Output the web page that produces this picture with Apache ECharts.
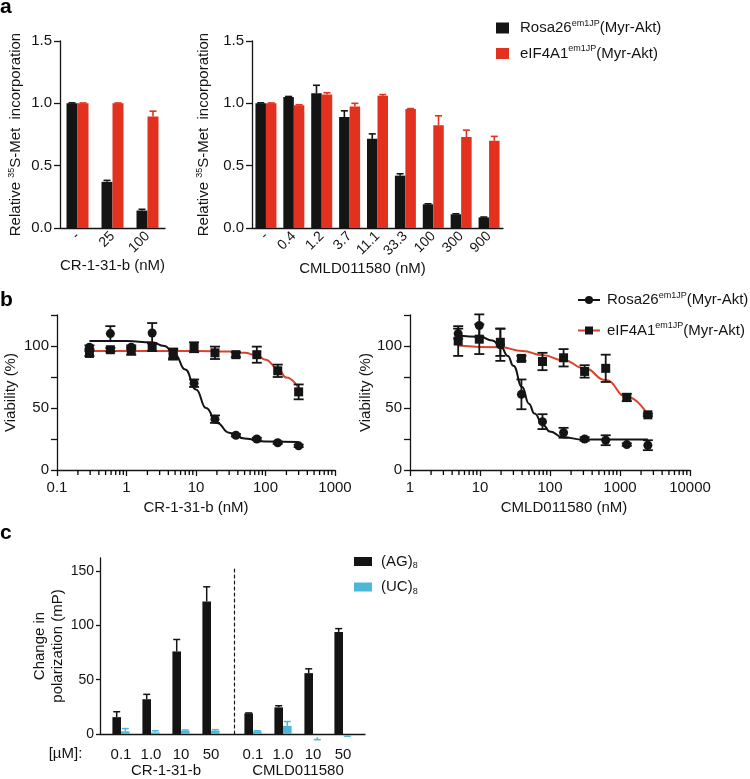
<!DOCTYPE html>
<html><head><meta charset="utf-8">
<script src="https://cdn.jsdelivr.net/npm/echarts@6/dist/echarts.min.js"></script>
<style>html,body{margin:0;padding:0;background:#fff}#c{width:750px;height:779px}</style>
</head><body><div id="c"></div>
<script>
// ---------- Panel a ----------
const catsA1 = ['-', '25', '100'];
const rosaA1 = [1.0, 0.37, 0.14];
const rosaA1Err = [0.004, 0.012, 0.01];
const eifA1 = [1.0, 1.0, 0.895];
const eifA1Err = [0.003, 0.003, 0.042];
const catsA2 = ['-', '0.4', '1.2', '3.7', '11.1', '33.3', '100', '300', '900'];
const rosaA2 = [1.0, 1.05, 1.08, 0.89, 0.715, 0.42, 0.19, 0.11, 0.085];
const rosaA2Err = [0.004, 0.005, 0.065, 0.05, 0.04, 0.015, 0.004, 0.004, 0.003];
const eifA2 = [1.0, 0.985, 1.07, 0.975, 1.06, 0.955, 0.825, 0.73, 0.70];
const eifA2Err = [0.003, 0.004, 0.015, 0.025, 0.01, 0.003, 0.075, 0.055, 0.035];

// ---------- Panel b ----------
const xB1 = [0.293, 0.586, 1.17, 2.34, 4.69, 9.38, 18.75, 37.5, 75, 150, 300];
const rosaB1 = [99, 110, 99, 110.5, 94, 70, 41, 28, 25, 22, 19.5];
const rosaB1Err = [1.5, 6, 1.5, 8, 4, 3, 3, 1, 1, 1, 1];
const eifB1 = [94, 97, 96, 99, 93, 99, 94.5, 93, 93, 80, 63];
const eifB1Err = [2, 1.5, 3, 3, 4, 4, 5, 2, 6.5, 5, 6];
const fitXRosaB1 = [0.293, 1, 2.3, 3.5, 5, 7, 10, 14, 20, 30, 50, 100, 300];
const fitYRosaB1 = [104, 104, 103, 100, 93, 81, 65, 50, 38, 30, 25.5, 23, 22.5];
const fitXEifB1 = [0.293, 10, 30, 50, 75, 100, 150, 200, 300];
const fitYEifB1 = [96, 96, 95.5, 94.5, 92.5, 89, 82, 74.5, 66];

const xB2 = [4.88, 9.77, 19.53, 39.06, 78.1, 156.25, 312.5, 625, 1250, 2500];
const rosaB2 = [110, 116.5, 101, 61, 39, 30, 25, 24, 20.5, 20];
const rosaB2Err = [4, 9, 13, 12, 6, 4, 1.5, 4, 1, 4];
const eifB2 = [104, 105.5, 103, 90, 87.5, 90.5, 79.5, 82, 58.5, 44.5];
const eifB2Err = [12, 12, 11, 2, 7, 7, 5, 11, 3, 1];
const fitXRosaB2 = [4.88, 10, 15, 20, 25, 30, 40, 50, 60, 80, 100, 150, 300, 2500];
const fitYRosaB2 = [108.5, 107.5, 104.5, 99, 92, 84, 67, 53.5, 45.5, 36, 31, 26.5, 24.5, 24.5];
const fitXEifB2 = [4.88, 20, 40, 80, 156, 312, 625, 1250, 2500];
const fitYEifB2 = [100.5, 99, 96, 92.5, 88.5, 82, 72.5, 59, 44.5];

// minor tick positions of the log axes
const minorB1 = [0.2, 0.3, 0.4, 0.5, 0.6, 0.7, 0.8, 0.9, 2, 3, 4, 5, 6, 7, 8, 9,
  20, 30, 40, 50, 60, 70, 80, 90, 200, 300, 400, 500, 600, 700, 800, 900];
const minorB2 = [2, 3, 4, 5, 6, 7, 8, 9, 20, 30, 40, 50, 60, 70, 80, 90,
  200, 300, 400, 500, 600, 700, 800, 900, 2000, 3000, 4000, 5000, 6000, 7000, 8000, 9000];

// ---------- Panel c ----------
const catsC = ['0.1', '1.0', '10', '50'];
const agCR = [15.5, 32, 76, 122];
const agCRErr = [5, 4.5, 11, 13.5];
const ucCR = [2.5, 1.5, 3, 3];
const ucCRErr = [2.5, 1.5, 0.7, 1];
const agCM = [19, 24.5, 56, 94];
const agCMErr = [0.4, 1.5, 4, 3];
const ucCM = [2.5, 7.5, -3, -1];
const ucCMErr = [0.5, 4, 2.2, 1];
const yTicksC = [0, 50, 100, 150];

// ---------- styling ----------
const FONT = "'Liberation Sans', Arial, Helvetica, sans-serif";
const INK = '#141414';
const BLK = '#141414';
const RED = '#e2321f';
const REDLINE = '#d9432b';
const CYAN = '#4cb8d5';
const AX = { lineStyle: { color: INK, width: 1.3 } };

function errRender(offset, cap, mode, color, lw) {
  return function (params, api) {
    const x = api.value(0), v = api.value(1), e = api.value(2);
    const p = api.coord([x, v]);
    const cx = p[0] + offset;
    let topY, botY;
    if (mode === 'both') {
      topY = api.coord([x, v + e])[1];
      botY = api.coord([x, v - e])[1];
    } else if (mode === 'tick') {
      topY = p[1];
      botY = p[1] + e;
    } else {
      const s = v < 0 ? -1 : 1;
      topY = api.coord([x, v + s * e])[1];
      botY = p[1];
    }
    const st = { stroke: color, lineWidth: lw };
    const ch = [
      { type: 'line', shape: { x1: cx, y1: botY, x2: cx, y2: topY }, style: st }
    ];
    if (cap > 0) ch.push({ type: 'line', shape: { x1: cx - cap / 2, y1: topY, x2: cx + cap / 2, y2: topY }, style: st });
    if (mode === 'both') ch.push({ type: 'line', shape: { x1: cx - cap / 2, y1: botY, x2: cx + cap / 2, y2: botY }, style: st });
    return { type: 'group', children: ch };
  };
}
function errSeries(xi, yi, vals, errs, offset, cap, mode, color, lw) {
  return {
    type: 'custom', xAxisIndex: xi, yAxisIndex: yi, silent: true, z: 4, clip: false,
    data: vals.map((v, i) => [i, v, errs[i]]),
    renderItem: errRender(offset, cap, mode, color, lw)
  };
}
function errSeriesXY(xi, yi, xs, vals, errs, color) {
  return {
    type: 'custom', xAxisIndex: xi, yAxisIndex: yi, silent: true, z: 4, clip: false,
    data: xs.map((x, i) => [x, vals[i], errs[i]]),
    renderItem: errRender(0, 10, 'both', color, 1.8)
  };
}
// minor ticks drawn exactly like the working error bars: [x, y=0, length]
function minorTickSeries(xi, yi, ticks) {
  return {
    type: 'custom', xAxisIndex: xi, yAxisIndex: yi, silent: true, z: 4, clip: false,
    data: ticks.map(t => [t, 0.001, 5]),
    renderItem: errRender(0, 0, 'tick', '#000', 1.3)
  };
}

const supRich = {
  n: { fontSize: 15, fontFamily: FONT, color: INK, lineHeight: 18 },
  s: { fontSize: 9, fontFamily: FONT, color: INK, verticalAlign: 'top' },
  b: { fontSize: 9, fontFamily: FONT, color: INK, verticalAlign: 'bottom' }
};
const relName = '{n|Relative }{s|35}{n|S-Met  incorporation}';

function legendText(name) {
  if (name.indexOf('Rosa') === 0) return '{n|Rosa26}{s|em1JP}{n|(Myr-Akt)}';
  if (name.indexOf('Eif') === 0) return '{n|eIF4A1}{s|em1JP}{n|(Myr-Akt)}';
  if (name === 'AG') return '{n|(AG)}{b|8}';
  return '{n|(UC)}{b|8}';
}

const grids = [
  { left: 60, top: 41, width: 105, height: 187 },   // a1
  { left: 252, top: 41, width: 251, height: 187 },  // a2
  { left: 57, top: 315, width: 278, height: 155 },  // b1
  { left: 410, top: 315, width: 280, height: 155 }, // b2
  { left: 100, top: 558, width: 265, height: 176 }, // c frame
  { left: 106, top: 558, width: 120, height: 176 }, // c1
  { left: 238, top: 568, width: 120, height: 166 }  // c2
];
const yMaxC = 162;
const yMaxC2 = yMaxC * 166 / 176;

const catX = (gi, cats, name, padRight) => ({
  gridIndex: gi, type: 'category', data: cats, axisLine: AX, axisTick: { show: false },
  axisLabel: { rotate: 45, fontSize: 14, fontFamily: FONT, color: INK, margin: 6, interval: 0 },
  name: name, nameLocation: 'middle', nameGap: 30,
  nameTextStyle: { fontSize: 15, fontFamily: FONT, color: INK, padding: padRight ? [0, padRight, 0, 0] : 0 }
});
const yA = (gi, gap) => ({
  gridIndex: gi, type: 'value', min: 0, max: 1.5, interval: 0.5,
  axisLine: { show: true, lineStyle: AX.lineStyle }, axisTick: { show: true, length: 6, lineStyle: AX.lineStyle },
  splitLine: { show: false },
  axisLabel: { fontSize: 15, fontFamily: FONT, color: INK, margin: 8, formatter: v => v.toFixed(1) },
  name: relName, nameLocation: 'middle', nameGap: gap, nameTextStyle: { rich: supRich }
});
const logX = (gi, min, max, name, pad) => ({
  gridIndex: gi, type: 'log', logBase: 10, min: min, max: max, position: 'bottom',
  axisLine: AX, axisTick: { show: true, length: 6, lineStyle: AX.lineStyle }, splitLine: { show: false },
  axisLabel: { fontSize: 15, fontFamily: FONT, color: INK, margin: 10, formatter: v => String(+v.toPrecision(6)) },
  name: name, nameLocation: 'middle', nameGap: 30,
  nameTextStyle: { fontSize: 15, fontFamily: FONT, color: INK, padding: pad }
});
const yB = (gi, gap) => ({
  gridIndex: gi, type: 'value', min: 0, max: 125, interval: 25,
  axisLine: { show: true, lineStyle: AX.lineStyle }, axisTick: { show: true, length: 6, lineStyle: AX.lineStyle },
  splitLine: { show: false },
  axisLabel: { fontSize: 15, fontFamily: FONT, color: INK, margin: 8, formatter: v => (v % 50 === 0 ? String(v) : '') },
  name: 'Viability (%)', nameLocation: 'middle', nameGap: gap,
  nameTextStyle: { fontSize: 15, fontFamily: FONT, color: INK }
});
const catC = (gi, name) => ({
  gridIndex: gi, type: 'category', data: catsC, axisLine: { show: false }, axisTick: { show: false },
  splitLine: { show: false },
  axisLabel: { fontSize: 15, fontFamily: FONT, color: INK, margin: 13, interval: 0 },
  name: name, nameLocation: 'middle', nameGap: 27,
  nameTextStyle: { fontSize: 15, fontFamily: FONT, color: INK }
});

const option = {
  animation: false,
  backgroundColor: '#fff',
  textStyle: { fontFamily: FONT, color: INK },
  title: [
    { text: 'a', left: 0, top: -3, padding: 0, textStyle: { fontSize: 21, fontWeight: 'bold', fontFamily: FONT, color: '#000' } },
    { text: 'b', left: 0, top: 290, padding: 0, textStyle: { fontSize: 21, fontWeight: 'bold', fontFamily: FONT, color: '#000' } },
    { text: 'c', left: 0, top: 523, padding: 0, textStyle: { fontSize: 21, fontWeight: 'bold', fontFamily: FONT, color: '#000' } }
  ],
  legend: [
    { data: [{ name: 'RosaA', icon: 'rect' }, { name: 'EifA', icon: 'rect' }], orient: 'vertical', left: 496, top: 19, padding: 0,
      itemWidth: 13, itemHeight: 11, itemGap: 9, selectedMode: false, formatter: legendText,
      textStyle: { rich: supRich, padding: [0, 0, 0, 6] } },
    { data: ['RosaB', 'EifB'], orient: 'vertical', left: 577, top: 291, padding: 0,
      itemWidth: 22, itemHeight: 10, itemGap: 14, selectedMode: false, formatter: legendText,
      textStyle: { rich: supRich, padding: [0, 0, 0, 2] } },
    { data: [{ name: 'AG', icon: 'rect' }, { name: 'UC', icon: 'rect' }], orient: 'vertical', left: 354, top: 554, padding: 0,
      itemWidth: 18, itemHeight: 9, itemGap: 9, selectedMode: false, formatter: legendText,
      textStyle: { rich: supRich, padding: [0, 0, 0, 4] } }
  ],
  grid: grids,
  xAxis: [
    catX(0, catsA1, 'CR-1-31-b (nM)'),
    catX(1, catsA2, 'CMLD011580 (nM)', 30),
    logX(2, 0.1, 1000, 'CR-1-31-b (nM)', 0),
    logX(3, 1, 10000, 'CMLD011580 (nM)', [0, 0, 0, 28]),
    { gridIndex: 4, type: 'value', min: 0, max: 1, axisLine: AX, axisTick: { show: false },
      axisLabel: { show: false }, splitLine: { show: false },
      name: '\n\n[µM]:', nameLocation: 'start', nameGap: 15,
      nameTextStyle: { fontSize: 15, fontFamily: FONT, color: INK, lineHeight: 20 } },
    catC(5, 'CR-1-31-b'),
    catC(6, 'CMLD011580')
  ],
  yAxis: [
    yA(0, 35),
    yA(1, 39),
    yB(2, 39),
    yB(3, 34),
    { gridIndex: 4, type: 'value', min: 0, max: yMaxC, interval: 50,
      axisLine: { show: true, lineStyle: AX.lineStyle },
      axisTick: { show: true, length: 4, customValues: yTicksC, lineStyle: AX.lineStyle },
      axisLabel: { fontSize: 14, fontFamily: FONT, color: INK, margin: 6, customValues: yTicksC },
      splitLine: { show: false },
      name: 'Change in\npolarization (mP)', nameLocation: 'middle', nameGap: 24,
      nameTextStyle: { fontSize: 15, fontFamily: FONT, color: INK, lineHeight: 18 } },
    { gridIndex: 5, type: 'value', min: 0, max: yMaxC, show: false, splitLine: { show: false } },
    { gridIndex: 6, type: 'value', min: 0, max: yMaxC2, position: 'left', offset: 4,
      axisLine: { show: true, lineStyle: { color: INK, width: 1.2, type: [3, 3] } },
      axisTick: { show: false }, axisLabel: { show: false }, splitLine: { show: false } }
  ],
  series: [
    // panel a left
    { type: 'bar', name: 'RosaA', xAxisIndex: 0, yAxisIndex: 0, data: rosaA1, barWidth: 11, barGap: '0%', itemStyle: { color: BLK } },
    { type: 'bar', name: 'EifA', xAxisIndex: 0, yAxisIndex: 0, data: eifA1, barWidth: 11, barGap: '0%', itemStyle: { color: RED } },
    errSeries(0, 0, rosaA1, rosaA1Err, -5.5, 7, 'up', BLK, 1.6),
    errSeries(0, 0, eifA1, eifA1Err, 5.5, 7, 'up', RED, 1.6),
    // panel a right
    { type: 'bar', name: 'RosaA', xAxisIndex: 1, yAxisIndex: 1, data: rosaA2, barWidth: 10.5, barGap: '0%', itemStyle: { color: BLK } },
    { type: 'bar', name: 'EifA', xAxisIndex: 1, yAxisIndex: 1, data: eifA2, barWidth: 10.5, barGap: '0%', itemStyle: { color: RED } },
    errSeries(1, 1, rosaA2, rosaA2Err, -5.25, 7, 'up', BLK, 1.6),
    errSeries(1, 1, eifA2, eifA2Err, 5.25, 7, 'up', RED, 1.6),
    // panel b left
    { type: 'line', name: 'RosaB', xAxisIndex: 2, yAxisIndex: 2, data: fitXRosaB1.map((x, i) => [x, fitYRosaB1[i]]),
      smooth: 0.5, smoothMonotone: 'x', showSymbol: false, symbol: 'circle', symbolSize: 8,
      lineStyle: { color: BLK, width: 2 }, itemStyle: { color: BLK }, z: 3 },
    { type: 'line', name: 'EifB', xAxisIndex: 2, yAxisIndex: 2, data: fitXEifB1.map((x, i) => [x, fitYEifB1[i]]),
      smooth: 0.5, smoothMonotone: 'x', showSymbol: false, symbol: 'rect', symbolSize: 8,
      lineStyle: { color: REDLINE, width: 2 }, itemStyle: { color: BLK }, z: 2 },
    errSeriesXY(2, 2, xB1, rosaB1, rosaB1Err, BLK),
    errSeriesXY(2, 2, xB1, eifB1, eifB1Err, BLK),
    minorTickSeries(2, 2, minorB1),
    { type: 'scatter', name: 'RosaB pts', xAxisIndex: 2, yAxisIndex: 2, data: xB1.map((x, i) => [x, rosaB1[i]]),
      symbol: 'circle', symbolSize: 9, itemStyle: { color: BLK, opacity: 1 }, z: 5 },
    { type: 'scatter', name: 'EifB pts', xAxisIndex: 2, yAxisIndex: 2, data: xB1.map((x, i) => [x, eifB1[i]]),
      symbol: 'rect', symbolSize: 9, itemStyle: { color: BLK, opacity: 1 }, z: 5 },
    // panel b right
    { type: 'line', name: 'RosaB', xAxisIndex: 3, yAxisIndex: 3, data: fitXRosaB2.map((x, i) => [x, fitYRosaB2[i]]),
      smooth: 0.5, smoothMonotone: 'x', showSymbol: false, symbol: 'circle', symbolSize: 8,
      lineStyle: { color: BLK, width: 2 }, itemStyle: { color: BLK }, z: 3 },
    { type: 'line', name: 'EifB', xAxisIndex: 3, yAxisIndex: 3, data: fitXEifB2.map((x, i) => [x, fitYEifB2[i]]),
      smooth: 0.5, smoothMonotone: 'x', showSymbol: false, symbol: 'rect', symbolSize: 8,
      lineStyle: { color: REDLINE, width: 2 }, itemStyle: { color: BLK }, z: 2 },
    errSeriesXY(3, 3, xB2, rosaB2, rosaB2Err, BLK),
    errSeriesXY(3, 3, xB2, eifB2, eifB2Err, BLK),
    minorTickSeries(3, 3, minorB2),
    { type: 'scatter', name: 'RosaB pts', xAxisIndex: 3, yAxisIndex: 3, data: xB2.map((x, i) => [x, rosaB2[i]]),
      symbol: 'circle', symbolSize: 9, itemStyle: { color: BLK, opacity: 1 }, z: 5 },
    { type: 'scatter', name: 'EifB pts', xAxisIndex: 3, yAxisIndex: 3, data: xB2.map((x, i) => [x, eifB2[i]]),
      symbol: 'rect', symbolSize: 9, itemStyle: { color: BLK, opacity: 1 }, z: 5 },
    // panel c
    { type: 'bar', name: 'AG', xAxisIndex: 5, yAxisIndex: 5, data: agCR, barWidth: 8.6, barGap: '0%', itemStyle: { color: BLK } },
    { type: 'bar', name: 'UC', xAxisIndex: 5, yAxisIndex: 5, data: ucCR, barWidth: 8.6, barGap: '0%', itemStyle: { color: CYAN } },
    errSeries(5, 5, agCR, agCRErr, -4.3, 7, 'up', BLK, 1.5),
    errSeries(5, 5, ucCR, ucCRErr, 4.3, 7, 'up', CYAN, 1.5),
    { type: 'bar', name: 'AG', xAxisIndex: 6, yAxisIndex: 6, data: agCM, barWidth: 8.6, barGap: '0%', itemStyle: { color: BLK } },
    { type: 'bar', name: 'UC', xAxisIndex: 6, yAxisIndex: 6, data: ucCM, barWidth: 8.6, barGap: '0%', itemStyle: { color: CYAN } },
    errSeries(6, 6, agCM, agCMErr, -4.3, 7, 'up', BLK, 1.5),
    errSeries(6, 6, ucCM, ucCMErr, 4.3, 7, 'up', CYAN, 1.5)
  ]
};
const chart = echarts.init(document.getElementById('c'), null, { renderer: 'canvas' });
chart.setOption(option);
</script>
</body></html>
